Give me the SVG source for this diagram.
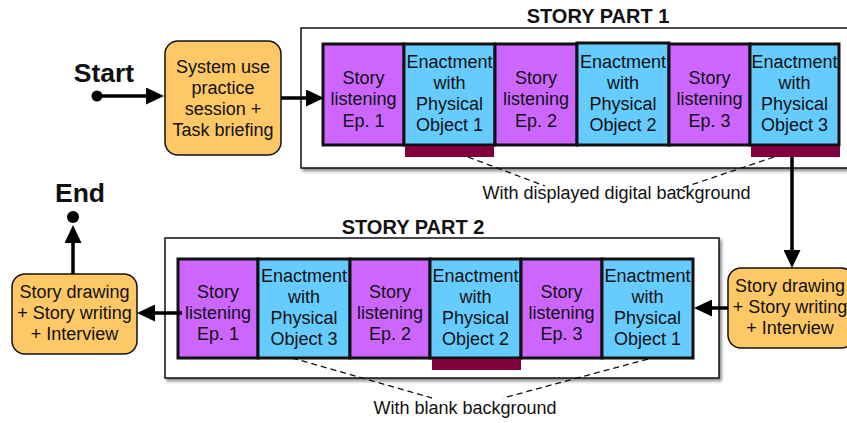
<svg xmlns="http://www.w3.org/2000/svg" width="847" height="423" viewBox="0 0 847 423">
  <defs>
    <style>
      .lbl { font-family: "Liberation Sans", Arial, sans-serif; font-size: 18px; fill: #111; text-anchor: middle; }
      .title { font-family: "Liberation Sans", Arial, sans-serif; font-weight: bold; font-size: 20px; fill: #111; text-anchor: middle; }
      .big { font-family: "Liberation Sans", Arial, sans-serif; font-weight: bold; font-size: 26.5px; fill: #111; text-anchor: middle; }
      .frame { fill: #fff; stroke: #111; stroke-width: 1.5; filter: url(#shadow); }
      .listen { fill: #cc66ff; stroke: #111; stroke-width: 3; }
      .enact { fill: #66ccff; stroke: #111; stroke-width: 3; }
      .bg { fill: #7f003c; }
      .task { fill: #fdc865; stroke: #111; stroke-width: 1.5; }
      .flow { fill: none; stroke: #000; stroke-width: 3.5; marker-end: url(#head); }
      .lead { fill: none; stroke: #111; stroke-width: 1.3; stroke-dasharray: 6 4; }
    </style>
    <filter id="shadow" x="-5%" y="-5%" width="115%" height="120%">
      <feDropShadow dx="2" dy="2.5" stdDeviation="1.5" flood-color="#000" flood-opacity="0.45"/>
    </filter>
    <marker id="head" viewBox="0 0 18 17" refX="0" refY="8.5" markerWidth="18" markerHeight="17" markerUnits="userSpaceOnUse" orient="auto">
      <path d="M0,0 L18,8.5 L0,17 Z" fill="#000"/>
    </marker>
  </defs>

  <!-- story part frames -->
  <g id="part1-frame">
    <rect class="frame" x="301" y="28" width="570" height="140"/>
    <text class="title" x="598" y="23">STORY PART 1</text>
  </g>
  <g id="part2-frame">
    <rect class="frame" x="165" y="238" width="554" height="140"/>
    <text class="title" x="413" y="234">STORY PART 2</text>
  </g>

  <!-- start / end markers -->
  <g id="start">
    <text class="big" x="104" y="82">Start</text>
    <circle cx="97" cy="96" r="5.5" fill="#000"/>
  </g>
  <g id="end">
    <text class="big" x="80" y="202">End</text>
    <circle cx="73" cy="217" r="6" fill="#000"/>
  </g>

  <!-- orange task nodes -->
  <g id="briefing">
    <rect class="task" x="165" y="41" width="116" height="114" rx="13"/>
    <text class="lbl" x="223" y="73">System use</text>
    <text class="lbl" x="223" y="94">practice</text>
    <text class="lbl" x="223" y="115">session +</text>
    <text class="lbl" x="223" y="136">Task briefing</text>
  </g>
  <g id="drawing-1">
    <rect class="task" x="728" y="268" width="126" height="80" rx="13"/>
    <text class="lbl" x="790" y="292">Story drawing</text>
    <text class="lbl" x="790" y="313">+ Story writing</text>
    <text class="lbl" x="790" y="334">+ Interview</text>
  </g>
  <g id="drawing-2">
    <rect class="task" x="12" y="274" width="125" height="80" rx="13"/>
    <text class="lbl" x="74.5" y="298">Story drawing</text>
    <text class="lbl" x="74.5" y="319">+ Story writing</text>
    <text class="lbl" x="74.5" y="340">+ Interview</text>
  </g>

  <!-- part 1 sequence -->
  <g id="p1-listen-1">
    <rect class="listen" x="323" y="44" width="81" height="101"/>
    <text class="lbl" x="363.5" y="84">Story</text>
    <text class="lbl" x="363.5" y="105">listening</text>
    <text class="lbl" x="363.5" y="127">Ep. 1</text>
  </g>
  <g id="p1-enact-1">
    <rect class="enact" x="404" y="44" width="91" height="101"/>
    <rect class="bg" x="405" y="146" width="89" height="11"/>
    <text class="lbl" x="449.5" y="68">Enactment</text>
    <text class="lbl" x="449.5" y="89">with</text>
    <text class="lbl" x="449.5" y="110">Physical</text>
    <text class="lbl" x="449.5" y="131">Object 1</text>
  </g>
  <g id="p1-listen-2">
    <rect class="listen" x="495" y="44" width="82" height="101"/>
    <text class="lbl" x="536" y="84">Story</text>
    <text class="lbl" x="536" y="105">listening</text>
    <text class="lbl" x="536" y="127">Ep. 2</text>
  </g>
  <g id="p1-enact-2">
    <rect class="enact" x="577" y="43" width="92" height="102"/>
    <text class="lbl" x="623" y="68">Enactment</text>
    <text class="lbl" x="623" y="89">with</text>
    <text class="lbl" x="623" y="110">Physical</text>
    <text class="lbl" x="623" y="131">Object 2</text>
  </g>
  <g id="p1-listen-3">
    <rect class="listen" x="669" y="44" width="81" height="101"/>
    <text class="lbl" x="709.5" y="84">Story</text>
    <text class="lbl" x="709.5" y="105">listening</text>
    <text class="lbl" x="709.5" y="127">Ep. 3</text>
  </g>
  <g id="p1-enact-3">
    <rect class="enact" x="750" y="44" width="89" height="101"/>
    <rect class="bg" x="751" y="146" width="89" height="11"/>
    <text class="lbl" x="794.5" y="68">Enactment</text>
    <text class="lbl" x="794.5" y="89">with</text>
    <text class="lbl" x="794.5" y="110">Physical</text>
    <text class="lbl" x="794.5" y="131">Object 3</text>
  </g>

  <!-- part 2 sequence -->
  <g id="p2-listen-1">
    <rect class="listen" x="178" y="259" width="80" height="99"/>
    <text class="lbl" x="218" y="298">Story</text>
    <text class="lbl" x="218" y="319">listening</text>
    <text class="lbl" x="218" y="340">Ep. 1</text>
  </g>
  <g id="p2-enact-3">
    <rect class="enact" x="258" y="259" width="92" height="99"/>
    <text class="lbl" x="304" y="282">Enactment</text>
    <text class="lbl" x="304" y="303">with</text>
    <text class="lbl" x="304" y="324">Physical</text>
    <text class="lbl" x="304" y="345">Object 3</text>
  </g>
  <g id="p2-listen-2">
    <rect class="listen" x="350" y="259" width="80" height="99"/>
    <text class="lbl" x="390" y="298">Story</text>
    <text class="lbl" x="390" y="319">listening</text>
    <text class="lbl" x="390" y="340">Ep. 2</text>
  </g>
  <g id="p2-enact-2">
    <rect class="enact" x="430" y="259" width="91" height="99"/>
    <rect class="bg" x="432" y="359" width="89" height="11"/>
    <text class="lbl" x="475.5" y="282">Enactment</text>
    <text class="lbl" x="475.5" y="303">with</text>
    <text class="lbl" x="475.5" y="324">Physical</text>
    <text class="lbl" x="475.5" y="345">Object 2</text>
  </g>
  <g id="p2-listen-3">
    <rect class="listen" x="521" y="259" width="81" height="99"/>
    <text class="lbl" x="561.5" y="298">Story</text>
    <text class="lbl" x="561.5" y="319">listening</text>
    <text class="lbl" x="561.5" y="340">Ep. 3</text>
  </g>
  <g id="p2-enact-1">
    <rect class="enact" x="602" y="259" width="91" height="99"/>
    <text class="lbl" x="647.5" y="282">Enactment</text>
    <text class="lbl" x="647.5" y="303">with</text>
    <text class="lbl" x="647.5" y="324">Physical</text>
    <text class="lbl" x="647.5" y="345">Object 1</text>
  </g>

  <!-- background annotations -->
  <g id="note-digital">
    <text class="lbl" x="616.5" y="199">With displayed digital background</text>
  </g>
  <g id="note-blank">
    <text class="lbl" x="465" y="414">With blank background</text>
  </g>

  <!-- connectors -->
  <g id="connectors">
    <path class="flow" d="M97,96 H146"/>
    <path class="flow" d="M281,98 H306"/>
    <path class="flow" d="M792,157 V250"/>
    <path class="flow" d="M728,308 H712"/>
    <path class="flow" d="M182,313 H155"/>
    <path class="flow" d="M73,274 V243"/>
    <path class="lead" d="M468,157 L545,186"/>
    <path class="lead" d="M774,157 L676,190"/>
    <path class="lead" d="M292,358 L432,398"/>
    <path class="lead" d="M648,359 L503,398"/>
  </g>
</svg>
